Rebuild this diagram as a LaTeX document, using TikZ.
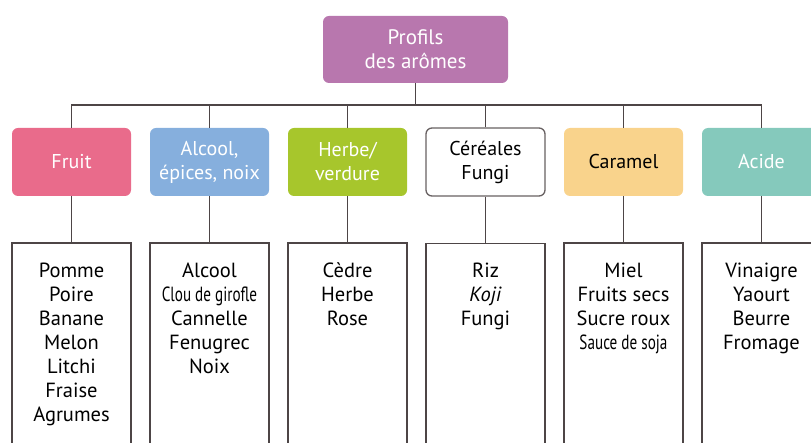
\documentclass[tikz,border=0pt]{standalone}
\usepackage{fontspec}
\setmainfont{PT Sans}
\newfontfamily\narrowfont[FakeStretch=0.74]{PT Sans}
\usetikzlibrary{positioning}

\definecolor{profil}{HTML}{B877AE}
\definecolor{fruit}{HTML}{E96B8B}
\definecolor{alcool}{HTML}{86AFDD}
\definecolor{herbe}{HTML}{A7C62C}
\definecolor{caramel}{HTML}{F9D38C}
\definecolor{acide}{HTML}{85C9BC}
\definecolor{trait}{HTML}{4D4546}

\begin{document}
\begin{tikzpicture}[x=1pt, y=-1pt, node distance=138pt,
  cat/.style={rounded corners=6pt, minimum width=119pt, minimum height=68pt, align=center, text=white, font=\fontsize{20}{24}\selectfont},
  list/.style={draw=trait, line width=1.5pt, minimum width=119pt, minimum height=230pt},
  items/.style={align=center, anchor=north, inner sep=0pt, font=\fontsize{20.5}{24}\selectfont},
  link/.style={draw=trait, line width=1.5pt}]

  \clip (0,0) rectangle (811,443);

  % Top
  \node[cat, fill=profil, minimum width=185pt, minimum height=67pt, font=\fontsize{21}{24}\selectfont] (P) at (415.5,49.5) {Profils\\des arômes};

  % Categories
  \node[cat, fill=fruit] (F) at (71.5,162) {Fruit};
  \node[cat, fill=alcool, right of=F] (Al) {Alcool,\\épices, noix};
  \node[cat, fill=herbe, right of=Al] (H) {Herbe/\\verdure};
  \node[cat, fill=white, draw=trait!85, line width=1.3pt, text=black, right of=H] (C) {Céréales\\Fungi};
  \node[cat, fill=caramel, text=black, right of=C] (Ca) {Caramel};
  \node[cat, fill=acide, right of=Ca] (A) {Acide};

  % Lists
  \foreach \n in {F,Al,H,C,Ca,A}
    \node[list, below=46pt of \n] (L\n) {};

  \node[items] (IF) at ([yshift=-18pt]LF.north) {\strut Pomme\\Poire\\Banane\\Melon\\Litchi\\Fraise\\Agrumes};
  \node[items] (IAl) at ([yshift=-18pt]LAl.north) {\strut Alcool\\{\narrowfont Clou de girofle}\\Cannelle\\Fenugrec\\Noix};
  \node[items] (IH) at ([yshift=-18pt]LH.north) {\strut Cèdre\\Herbe\\Rose};
  \node[items] (IC) at ([yshift=-18pt]LC.north) {\strut Riz\\\textit{Koji}\\Fungi};
  \node[items] (ICa) at ([yshift=-18pt]LCa.north) {\strut Miel\\Fruits secs\\Sucre roux\\{\narrowfont Sauce de soja}};
  \node[items] (IA) at ([yshift=-18pt]LA.north) {\strut Vinaigre\\Yaourt\\Beurre\\Fromage};

  % Connectors
  \draw[link] (P.south) -- ++(0,22);
  \draw[link] (F.north) -- ++(0,-23) -| (A.north);
  \foreach \n in {Al,H,C,Ca}
    \draw[link] (\n.north) -- ++(0,-23);
  \foreach \n in {F,Al,H,C,Ca,A}
    \draw[link] (\n.south) -- (L\n.north);

\end{tikzpicture}
\end{document}
